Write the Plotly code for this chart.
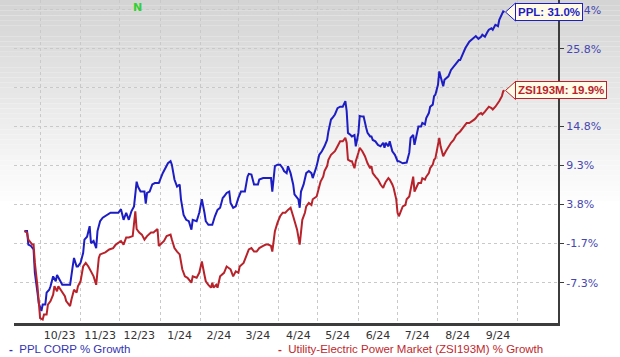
import plotly.graph_objects as go

# ---------------- data ----------------
ppl_dates = [
    "2023-09-19", "2023-09-21", "2023-09-22", "2023-09-24", "2023-09-26", "2023-09-27", "2023-09-29", "2023-09-30",
    "2023-10-02", "2023-10-03", "2023-10-05", "2023-10-06", "2023-10-08", "2023-10-09", "2023-10-11", "2023-10-13",
    "2023-10-14", "2023-10-16", "2023-10-18", "2023-10-20", "2023-10-22", "2023-10-24", "2023-10-26", "2023-10-27",
    "2023-10-29", "2023-10-30", "2023-11-01", "2023-11-03", "2023-11-04", "2023-11-06", "2023-11-08", "2023-11-09",
    "2023-11-11", "2023-11-13", "2023-11-14", "2023-11-16", "2023-11-18", "2023-11-21", "2023-11-24", "2023-11-27",
    "2023-11-30", "2023-12-02", "2023-12-04", "2023-12-06", "2023-12-08", "2023-12-10", "2023-12-12", "2023-12-14",
    "2023-12-15", "2023-12-17", "2023-12-20", "2023-12-21", "2023-12-22", "2023-12-24", "2023-12-26", "2023-12-28",
    "2023-12-31", "2024-01-03", "2024-01-05", "2024-01-07", "2024-01-09", "2024-01-10", "2024-01-12", "2024-01-14",
    "2024-01-16", "2024-01-17", "2024-01-19", "2024-01-21", "2024-01-23", "2024-01-25", "2024-01-26", "2024-01-29",
    "2024-01-31", "2024-02-02", "2024-02-04", "2024-02-05", "2024-02-07", "2024-02-10", "2024-02-12", "2024-02-14",
    "2024-02-16", "2024-02-18", "2024-02-19", "2024-02-21", "2024-02-23", "2024-02-24", "2024-02-26", "2024-02-28",
    "2024-03-01", "2024-03-03", "2024-03-06", "2024-03-08", "2024-03-09", "2024-03-11", "2024-03-13", "2024-03-16",
    "2024-03-17", "2024-03-20", "2024-03-23", "2024-03-26", "2024-03-27", "2024-03-29", "2024-03-31", "2024-04-02",
    "2024-04-04", "2024-04-05", "2024-04-07", "2024-04-08", "2024-04-10", "2024-04-12", "2024-04-13", "2024-04-16",
    "2024-04-17", "2024-04-18", "2024-04-20", "2024-04-22", "2024-04-24", "2024-04-26", "2024-04-27", "2024-04-29",
    "2024-04-30", "2024-05-02", "2024-05-04", "2024-05-06", "2024-05-08", "2024-05-09", "2024-05-11", "2024-05-12",
    "2024-05-14", "2024-05-16", "2024-05-18", "2024-05-20", "2024-05-22", "2024-05-23", "2024-05-24", "2024-05-26",
    "2024-05-27", "2024-05-29", "2024-05-30", "2024-06-01", "2024-06-02", "2024-06-04", "2024-06-05", "2024-06-07",
    "2024-06-08", "2024-06-10", "2024-06-11", "2024-06-12", "2024-06-14", "2024-06-16", "2024-06-18", "2024-06-20",
    "2024-06-21", "2024-06-22", "2024-06-24", "2024-06-25", "2024-06-27", "2024-06-29", "2024-07-01", "2024-07-02",
    "2024-07-05", "2024-07-08", "2024-07-10", "2024-07-11", "2024-07-13", "2024-07-14", "2024-07-16", "2024-07-17",
    "2024-07-19", "2024-07-20", "2024-07-22", "2024-07-23", "2024-07-25", "2024-07-26", "2024-07-28", "2024-07-29",
    "2024-07-30", "2024-08-01", "2024-08-02", "2024-08-03", "2024-08-05", "2024-08-06", "2024-08-09", "2024-08-11",
    "2024-08-14", "2024-08-17", "2024-08-18", "2024-08-20", "2024-08-22", "2024-08-25", "2024-08-29", "2024-08-30",
    "2024-09-01", "2024-09-03", "2024-09-04", "2024-09-06", "2024-09-08", "2024-09-09", "2024-09-11", "2024-09-12",
    "2024-09-14", "2024-09-16", "2024-09-17", "2024-09-19", "2024-09-20", "2024-09-21",
]
ppl_growth = [
    0.0, 0.0, -1.9, -2.1, -2.6, -5.9, -8.7, -10.2,
    -11.3, -10.4, -10.4, -8.7, -8.3, -7.8, -6.4, -7.1,
    -6.2, -6.9, -7.6, -7.6, -7.6, -7.6, -5.0, -3.8,
    -5.0, -5.0, -4.5, -3.1, -1.2, -0.8, 0.7, -1.7,
    -1.4, -2.4, 0.0, 1.4, 1.9, 2.3, 2.6, 2.6,
    2.6, 3.1, 1.6, 2.6, 1.6, 2.8, 3.5, 7.0,
    6.3, 5.6, 5.6, 3.9, 5.4, 5.6, 6.6, 6.8,
    6.8, 8.2, 8.9, 9.6, 9.9, 9.4, 7.3, 6.3,
    6.6, 4.5, 2.3, 1.6, 1.4, 0.2, 1.6, 1.4,
    2.6, 4.5, 2.6, 1.4, 0.9, 0.9, 2.1, 3.0,
    3.3, 4.7, 4.9, 5.4, 5.6, 4.0, 3.3, 3.5,
    4.7, 5.6, 5.6, 7.7, 8.1, 8.0, 6.6, 6.6,
    7.3, 7.5, 7.5, 7.5, 5.6, 9.2, 9.4, 9.4,
    8.9, 8.5, 8.2, 9.2, 8.2, 6.6, 5.2, 4.5,
    3.3, 5.6, 6.6, 8.2, 8.5, 8.2, 7.5, 8.7,
    9.2, 10.8, 11.3, 12.0, 12.9, 14.1, 15.8, 16.0,
    16.5, 17.4, 17.6, 17.6, 18.4, 17.0, 13.9, 13.6,
    13.4, 13.6, 12.0, 13.9, 16.3, 16.2, 16.2, 14.6,
    13.9, 13.4, 13.4, 12.9, 12.7, 12.2, 12.0, 12.5,
    11.8, 12.5, 12.0, 12.7, 11.3, 10.8, 9.9, 9.9,
    9.6, 9.7, 11.1, 13.2, 13.6, 12.2, 14.3, 14.8,
    14.8, 15.3, 15.1, 16.0, 16.7, 17.6, 17.9, 19.1,
    19.3, 20.7, 22.6, 21.9, 20.5, 21.4, 21.9, 22.8,
    23.5, 24.2, 24.2, 25.2, 25.9, 26.8, 27.5, 27.6,
    27.2, 27.5, 27.8, 27.5, 28.2, 28.5, 28.7, 28.5,
    29.2, 29.0, 29.9, 30.8, 31.1, 31.0,
]

zsi_dates = [
    "2023-09-19", "2023-09-21", "2023-09-22", "2023-09-24", "2023-09-25", "2023-09-26", "2023-09-27", "2023-09-29",
    "2023-09-30", "2023-10-01", "2023-10-03", "2023-10-04", "2023-10-06", "2023-10-07", "2023-10-09", "2023-10-11",
    "2023-10-12", "2023-10-14", "2023-10-15", "2023-10-17", "2023-10-18", "2023-10-20", "2023-10-21", "2023-10-24",
    "2023-10-25", "2023-10-27", "2023-10-29", "2023-10-30", "2023-11-01", "2023-11-03", "2023-11-05", "2023-11-07",
    "2023-11-09", "2023-11-11", "2023-11-13", "2023-11-15", "2023-11-16", "2023-11-18", "2023-11-20", "2023-11-23",
    "2023-11-26", "2023-11-28", "2023-11-30", "2023-12-02", "2023-12-04", "2023-12-06", "2023-12-08", "2023-12-11",
    "2023-12-13", "2023-12-14", "2023-12-16", "2023-12-18", "2023-12-20", "2023-12-22", "2023-12-25", "2023-12-27",
    "2023-12-28", "2023-12-30", "2023-12-31", "2024-01-02", "2024-01-04", "2024-01-06", "2024-01-09", "2024-01-10",
    "2024-01-12", "2024-01-14", "2024-01-16", "2024-01-18", "2024-01-20", "2024-01-22", "2024-01-25", "2024-01-26",
    "2024-01-29", "2024-01-31", "2024-02-02", "2024-02-04", "2024-02-05", "2024-02-07", "2024-02-09", "2024-02-10",
    "2024-02-11", "2024-02-13", "2024-02-14", "2024-02-16", "2024-02-17", "2024-02-19", "2024-02-21", "2024-02-23",
    "2024-02-24", "2024-02-26", "2024-02-28", "2024-03-01", "2024-03-02", "2024-03-05", "2024-03-07", "2024-03-09",
    "2024-03-11", "2024-03-13", "2024-03-15", "2024-03-17", "2024-03-20", "2024-03-22", "2024-03-24", "2024-03-26",
    "2024-03-27", "2024-03-29", "2024-03-31", "2024-04-02", "2024-04-04", "2024-04-06", "2024-04-08", "2024-04-10",
    "2024-04-12", "2024-04-13", "2024-04-15", "2024-04-17", "2024-04-18", "2024-04-19", "2024-04-21", "2024-04-22",
    "2024-04-24", "2024-04-26", "2024-04-27", "2024-04-29", "2024-04-30", "2024-05-02", "2024-05-03", "2024-05-05",
    "2024-05-06", "2024-05-08", "2024-05-09", "2024-05-11", "2024-05-12", "2024-05-14", "2024-05-16", "2024-05-18",
    "2024-05-20", "2024-05-22", "2024-05-23", "2024-05-24", "2024-05-26", "2024-05-27", "2024-05-29", "2024-05-30",
    "2024-06-01", "2024-06-02", "2024-06-04", "2024-06-06", "2024-06-08", "2024-06-10", "2024-06-11", "2024-06-12",
    "2024-06-14", "2024-06-16", "2024-06-18", "2024-06-20", "2024-06-21", "2024-06-22", "2024-06-24", "2024-06-25",
    "2024-06-27", "2024-06-28", "2024-06-30", "2024-07-01", "2024-07-02", "2024-07-04", "2024-07-05", "2024-07-07",
    "2024-07-08", "2024-07-10", "2024-07-11", "2024-07-13", "2024-07-14", "2024-07-16", "2024-07-17", "2024-07-19",
    "2024-07-20", "2024-07-22", "2024-07-23", "2024-07-25", "2024-07-26", "2024-07-28", "2024-07-29", "2024-07-30",
    "2024-08-01", "2024-08-02", "2024-08-03", "2024-08-05", "2024-08-07", "2024-08-09", "2024-08-11", "2024-08-13",
    "2024-08-15", "2024-08-18", "2024-08-21", "2024-08-23", "2024-08-25", "2024-08-27", "2024-08-29", "2024-08-30",
    "2024-09-01", "2024-09-03", "2024-09-04", "2024-09-06", "2024-09-08", "2024-09-09", "2024-09-11", "2024-09-12",
    "2024-09-14", "2024-09-16", "2024-09-17", "2024-09-19", "2024-09-20", "2024-09-21",
]
zsi_growth = [
    0.0, -0.2, -1.2, -1.7, -1.9, -1.9, -4.5, -7.8,
    -9.7, -12.3, -12.5, -11.8, -11.8, -10.4, -9.9, -9.0,
    -7.8, -8.5, -7.8, -8.3, -8.7, -9.2, -9.9, -10.6,
    -9.7, -8.3, -8.7, -7.8, -7.1, -5.0, -4.5, -5.0,
    -5.7, -6.4, -7.6, -3.8, -3.3, -3.2, -3.0, -2.6,
    -2.4, -1.9, -1.7, -1.4, -1.9, -0.9, -0.9, -0.7,
    2.8, 0.3, -0.2, -0.5, -1.2, -0.7, -0.2, -0.2,
    0.0, 0.3, -2.1, -1.7, -1.4, -0.7, -0.5, -1.2,
    -2.4, -2.9, -3.3, -5.4, -6.4, -6.6, -7.3, -6.4,
    -6.6, -5.9, -4.3, -6.2, -7.1, -7.6, -8.0, -7.3,
    -8.0, -7.6, -8.0, -6.4, -6.2, -5.9, -5.0, -5.2,
    -5.4, -6.4, -5.7, -5.9, -5.0, -4.5, -3.6, -2.6,
    -2.4, -2.9, -2.9, -2.4, -2.1, -1.9, -1.9, -2.1,
    -2.9, 0.0, 1.2, 2.1, 2.6, 2.6, 3.0, 3.3,
    2.1, 1.4, 0.2, -1.9, -0.3, 1.6, 2.6, 3.5,
    4.0, 3.7, 4.5, 4.7, 4.9, 6.3, 7.0, 7.7,
    8.5, 9.2, 10.1, 10.8, 11.0, 11.3, 12.0, 12.7,
    12.7, 13.2, 12.5, 10.1, 9.9, 9.9, 8.9, 9.9,
    11.1, 11.8, 11.3, 10.6, 9.6, 8.9, 9.2, 8.2,
    7.7, 7.3, 6.6, 6.1, 6.6, 7.0, 7.5, 7.3,
    6.6, 6.1, 4.5, 2.6, 2.1, 3.0, 3.5, 3.7,
    4.5, 4.9, 5.9, 7.7, 5.6, 6.6, 6.8, 6.8,
    7.5, 7.3, 7.7, 8.2, 8.9, 9.4, 10.1, 10.3,
    12.5, 13.2, 12.0, 10.6, 11.3, 12.0, 12.5, 12.9,
    13.6, 14.1, 14.8, 15.3, 15.3, 15.5, 15.8, 16.0,
    16.5, 16.7, 16.5, 16.9, 17.4, 17.6, 17.4, 17.2,
    17.6, 18.1, 18.4, 19.1, 19.8, 19.9,
]

ppl_name = "PPL CORP % Growth"
zsi_name = "Utility-Electric Power Market (ZSI193M) % Growth"
ppl_short = "PPL"
zsi_short = "ZSI193M"

# month grid (month starts) and month labels (placed mid-month)
month_starts = [
    "2023-10-01", "2023-11-01", "2023-12-01", "2024-01-01", "2024-02-01", "2024-03-01", "2024-04-01",
    "2024-05-01", "2024-06-01", "2024-07-01", "2024-08-01", "2024-09-01", "2024-10-01",
]
month_label_pos = [
    "2023-10-16", "2023-11-16", "2023-12-16", "2024-01-16", "2024-02-15", "2024-03-16",
    "2024-04-16", "2024-05-16", "2024-06-16", "2024-07-16", "2024-08-16", "2024-09-16",
]
month_labels = ["10/23", "11/23", "12/23", "1/24", "2/24", "3/24", "4/24", "5/24", "6/24", "7/24", "8/24", "9/24"]

# tick label at 20.3 is hidden behind the ZSI193M callout in the reference
y_tick_pos = [-7.3, -1.75, 3.8, 9.3, 14.8, 20.3, 25.8, 31.3]
y_tick_labels = ["-7.3%", "-1.7%", "3.8%", "9.3%", "14.8%", "", "25.8%", "31.4%"]

news_date = "2023-12-15"

# ---------------- style ----------------
BLUE = "#1d1dc4"
RED = "#b8232b"
AXIS = "#3c3c3c"
GRID = "#c9c9c9"
CREAM = "#fffbe6"

fig = go.Figure()
fig.add_trace(go.Scatter(x=ppl_dates, y=ppl_growth, mode="lines", name=ppl_name,
                         line=dict(color=BLUE, width=2), showlegend=False))
fig.add_trace(go.Scatter(x=zsi_dates, y=zsi_growth, mode="lines", name=zsi_name,
                         line=dict(color=RED, width=2), showlegend=False))

# gray-to-white background gradient at the top
shapes = []
n = 40
top, bottom = 1.0, 0.36
for i in range(n):
    f = i / (n - 1)
    c = int(212 + (255 - 212) * f)
    y1 = top - (top - bottom) * i / n
    y0 = top - (top - bottom) * (i + 1) / n
    shapes.append(dict(type="rect", xref="paper", yref="paper", x0=-0.03, x1=1.12, y0=y0, y1=y1,
                       fillcolor=f"rgb({c},{c},{c})", line=dict(width=0), layer="below"))

# pointer triangles for end labels
for d, v, col in [(ppl_dates[-1], ppl_growth[-1], BLUE), (zsi_dates[-1], zsi_growth[-1], RED)]:
    shapes.append(dict(type="path", xref="x", yref="y", xsizemode="pixel", ysizemode="pixel",
                       xanchor=d, yanchor=v, path="M1,0 L11,-9 L11,9 Z",
                       fillcolor=CREAM, line=dict(color=col, width=1), layer="above"))

annotations = [
    dict(x=ppl_dates[-1], y=ppl_growth[-1], xref="x", yref="y", xanchor="left", yanchor="middle",
         xshift=10, text=f"<b>{ppl_short}: {ppl_growth[-1]:.1f}%</b>", showarrow=False,
         font=dict(family="Liberation Sans, Arial", size=11.5, color=BLUE),
         bgcolor=CREAM, bordercolor=BLUE, borderwidth=1, borderpad=2),
    dict(x=zsi_dates[-1], y=zsi_growth[-1], xref="x", yref="y", xanchor="left", yanchor="middle",
         xshift=10, text=f"<b>{zsi_short}: {zsi_growth[-1]:.1f}%</b>", showarrow=False,
         font=dict(family="Liberation Sans, Arial", size=11.5, color=RED),
         bgcolor=CREAM, bordercolor=RED, borderwidth=1, borderpad=2),
    dict(x=news_date, y=1, xref="x", yref="paper", yanchor="top", yshift=1, text="<b>N</b>",
         showarrow=False, font=dict(family="DejaVu Sans", size=11, color="#2fd12f")),
    # legend row
    dict(x=0, y=0, xref="paper", yref="paper", xanchor="left", yanchor="middle", xshift=-7, yshift=-26,
         text=f"<b>-</b>  {ppl_name}", showarrow=False,
         font=dict(family="Liberation Sans, Arial", size=11.5, color="#3434b0")),
    dict(x=0, y=0, xref="paper", yref="paper", xanchor="left", yanchor="middle", xshift=262, yshift=-26,
         text=f"<b>-</b>  {zsi_name}", showarrow=False,
         font=dict(family="Liberation Sans, Arial", size=11.5, color="#c0282d")),
]

fig.update_layout(
    width=620, height=357,
    margin=dict(l=14, r=62, t=0, b=34),
    paper_bgcolor="white",
    plot_bgcolor="rgba(0,0,0,0)",
    shapes=shapes,
    annotations=annotations,
    showlegend=False,
    xaxis=dict(
        type="date",
        automargin=False,
        range=["2023-09-11", "2024-11-01"],
        tickmode="array", tickvals=month_label_pos, ticktext=month_labels,
        showgrid=False, ticks="",
        tickfont=dict(family="DejaVu Sans", size=11, color="#333333"),
        showline=True, linecolor=AXIS, linewidth=3,
        minor=dict(tickmode="array", tickvals=month_starts, showgrid=True,
                   gridcolor=GRID, griddash="dot", gridwidth=1, ticks=""),
        zeroline=False,
    ),
    yaxis=dict(
        side="right",
        automargin=False,
        range=[-13.0, 32.7],
        tickmode="array", tickvals=y_tick_pos, ticktext=y_tick_labels,
        showgrid=True, gridcolor=GRID, griddash="dot", gridwidth=1,
        ticks="outside", ticklen=4, tickcolor=AXIS,
        tickfont=dict(family="DejaVu Sans", size=11, color="#4646b0"),
        showline=True, linecolor=AXIS, linewidth=2,
        zeroline=False,
    ),
)

# remove the browser's default 8px page margin so the 620x357 figure fills the window exactly
fig.write_html("out.html", config={"displayModeBar": False},
               post_script="document.body.style.margin='0px';")
